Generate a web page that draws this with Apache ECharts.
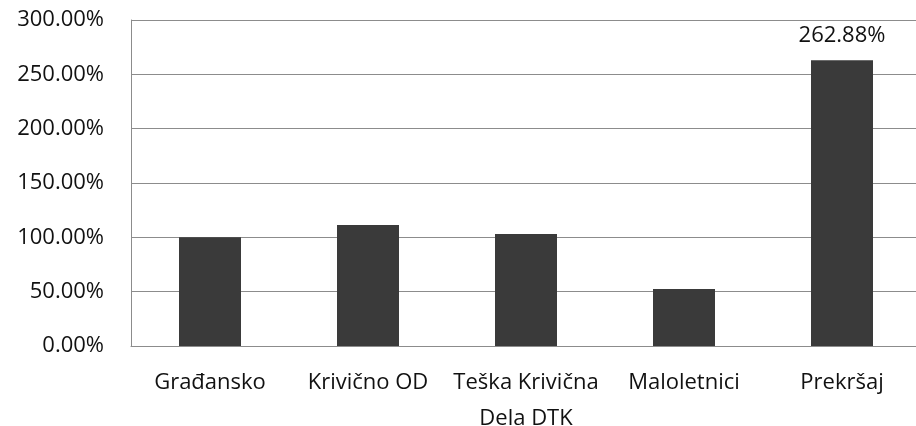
<!DOCTYPE html>
<html>
<head>
<meta charset="utf-8">
<script src="https://cdn.jsdelivr.net/npm/echarts@6/dist/echarts.min.js"></script>
<style>
  html, body { margin: 0; padding: 0; background: #fff; }
  #chart { width: 916px; height: 426px; }
</style>
</head>
<body>
<div id="chart"></div>
<script>
var categories = ['Građansko', 'Krivično OD', 'Teška Krivična\nDela DTK', 'Maloletnici', 'Prekršaj'];
var values = [100, 111.3, 103, 52.5, 262.88];
var labeledIndex = 4; // only the last bar carries its value label

var chart = echarts.init(document.getElementById('chart'));

var fontFamily = '"Open Sans", sans-serif';

chart.setOption({
	animation: false,
	textStyle: { fontFamily: fontFamily },
	grid: {
		left: 131,
		width: 790,
		top: 20,
		bottom: 80,
		outerBoundsMode: 'none'
	},
	xAxis: {
		type: 'category',
		data: categories,
		axisTick: { show: false },
		axisLine: { lineStyle: { color: '#8c8c8c', width: 1 } },
		axisLabel: {
			interval: 0,
			margin: 19,
			fontSize: 22,
			lineHeight: 36,
			color: '#111',
			fontFamily: fontFamily
		}
	},
	yAxis: {
		type: 'value',
		min: 0,
		max: 300,
		interval: 50,
		axisLine: { show: true, lineStyle: { color: '#8c8c8c', width: 1 } },
		axisTick: { show: false },
		splitLine: { lineStyle: { color: '#8c8c8c', width: 1 } },
		axisLabel: {
			margin: 27,
			fontSize: 22,
			color: '#111',
			fontFamily: fontFamily,
			formatter: function(v) {
				return v.toFixed(2) + '%';
			}
		}
	},
	series: [
		{
			type: 'bar',
			barWidth: 62,
			itemStyle: { color: '#3a3a3a' },
			data: values.map(function(v, i) {
				return {
					value: v,
					label: {
						show: i === labeledIndex,
						position: 'top',
						distance: 14,
						fontSize: 22,
						color: '#111',
						fontFamily: fontFamily,
						formatter: function(p) {
							return p.value.toFixed(2) + '%';
						}
					}
				};
			})
		}
	]
});
</script>
</body>
</html>
